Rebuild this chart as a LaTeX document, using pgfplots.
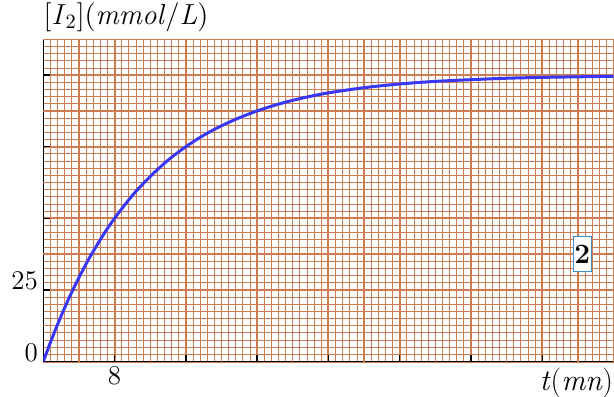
\documentclass[border=0pt]{standalone}
\usepackage{pgfplots}
\pgfplotsset{compat=1.18}
\definecolor{gridor}{RGB}{206,124,84}
\definecolor{curveblue}{RGB}{55,55,245}
\definecolor{boxblue}{RGB}{60,140,205}
\begin{document}
\begin{tikzpicture}
\begin{axis}[
  scale only axis,
  width=285.1pt, height=161.1pt,
  xmin=0, xmax=64, ymin=0, ymax=112.5,
  axis x line*=bottom, axis y line*=left,
  axis line style={black, line width=0.8pt},
  tick align=inside,
  major tick length=3.5pt,
  major tick style={black, line width=0.7pt},
  minor tick length=0pt,
  xtick={8,16,...,56}, xticklabels={8},
  ytick={0,25,50,75,100}, yticklabels={0,25,,,},
  minor xtick={0,0.8,...,64.1},
  minor ytick={0,2.5,...,112.6},
  grid=both,
  major grid style={gridor, line width=1pt},
  minor grid style={gridor, line width=0.4pt},
  extra x ticks={4,12,20,28,36,44,52,60,64},
  extra y ticks={12.5,37.5,62.5,87.5,112.5},
  extra tick style={major tick length=0pt, grid=major, major grid style={gridor, line width=0.65pt}},
  extra x tick labels={}, extra y tick labels={},
  /pgf/number format/assume math mode=true,
  ticklabel style={font=\fontsize{13.5}{15}\selectfont},
  yticklabel style={anchor=base east, inner sep=0pt, xshift=-2.5pt},
  xticklabel style={anchor=north, inner sep=0pt, yshift=-2.5pt},
]
\addplot[curveblue, line width=1.5pt, smooth] coordinates {
(0,0) (1,8.3) (2,15.9) (3,22.9) (4,29.3) (5,35.2) (6,40.5) (7,45.5) (8,50.0)
(10,58.0) (12,64.6) (14,70.3) (16,75.0) (18,79.0) (20,82.3) (22,85.1)
(24,87.5) (26,89.5) (28,91.2) (30,92.6) (32,93.8) (36,95.6) (40,96.9)
(44,97.8) (48,98.4) (52,98.9) (56,99.2) (60,99.4) (64,99.6)
};
\coordinate (O) at (rel axis cs:0,0);
\coordinate (T) at (rel axis cs:1,1);
\coordinate (B) at (axis cs:60.5,37.5);
\end{axis}
\node[anchor=south west, inner sep=0pt, yshift=3.6pt, font=\fontsize{14.5}{16}\selectfont] at (O|-T) {[\textit{I}\textsubscript{2}](\textit{mmol}/\textit{L})};
\node[anchor=north east, inner sep=0pt, yshift=-3.2pt, font=\fontsize{15}{17}\selectfont] at (T|-O) {\textit{t}(\textit{mn})};
\node[draw=boxblue, line width=0.5pt, fill=white, inner sep=0pt, minimum width=9pt, minimum height=17.5pt, font=\fontsize{14}{16}\selectfont\bfseries] at (B) {2};
\pgfresetboundingbox
\path ([xshift=-21.65pt,yshift=-17.25pt]O) rectangle ([xshift=0.25pt,yshift=19.65pt]T);
\end{tikzpicture}
\end{document}
